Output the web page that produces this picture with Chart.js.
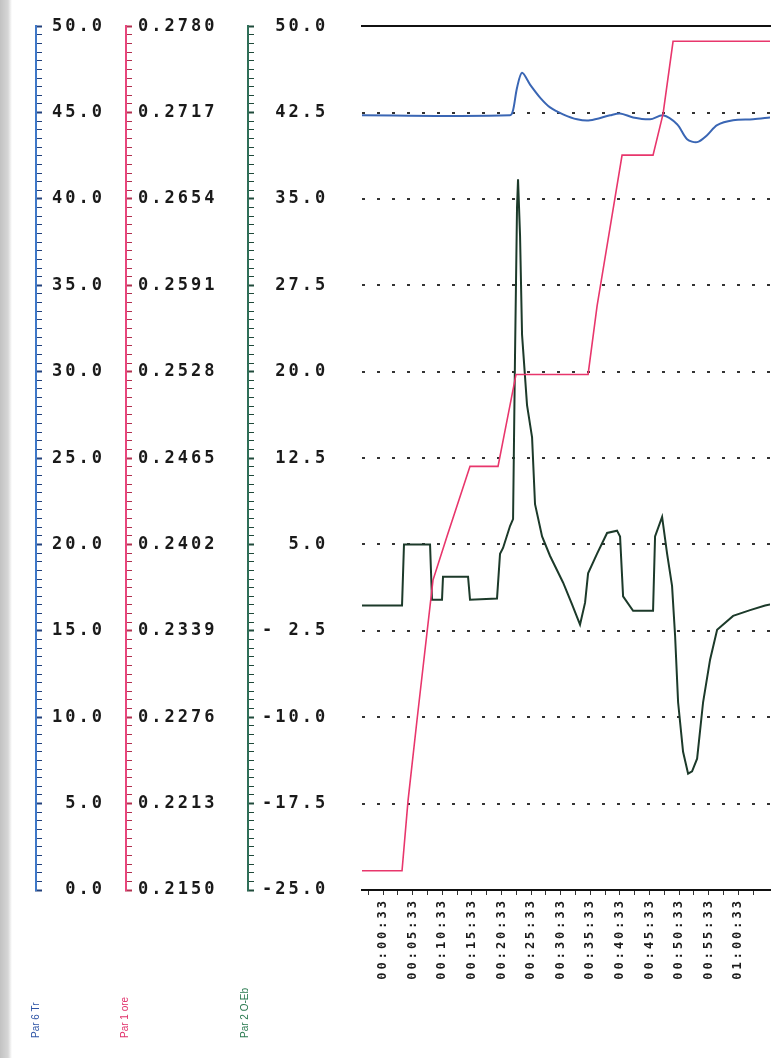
<!DOCTYPE html>
<html>
<head>
<meta charset="utf-8">
<title>Trend</title>
<script src="https://cdn.jsdelivr.net/npm/chart.js@4"></script>
<style>
    html, body { margin: 0; padding: 0; background: #fff; }
    #wrap {
        position: relative;
        width: 772px;
        height: 1058px;
        background: linear-gradient(to right, #c2c2c2 0, #d6d6d6 8px, #fff 12px);
    }
    #wrap canvas { position: absolute; left: 0; top: 0; }
    .ptitle {
        position: absolute;
        font: 10px "Liberation Sans", Arial, sans-serif;
        white-space: nowrap;
        transform-origin: 0 0;
        transform: rotate(-90deg);
    }
</style>
</head>
<body>
<div id="wrap">
    <canvas id="chartTrend" width="772" height="1058"></canvas>
    <div class="ptitle" style="left:30px; top:1038px; color:#2f55a6">Par 6 Tr</div>
    <div class="ptitle" style="left:119px; top:1038px; color:#e0306a">Par 1 ore</div>
    <div class="ptitle" style="left:239px; top:1038px; color:#2a7a50">Par 2 O-Eb</div>
</div>

<script>
// time axis labels (hh:mm:ss)
const timeLabels = [
    "00:00:33", "00:05:33", "00:10:33", "00:15:33", "00:20:33", "00:25:33", "00:30:33",
    "00:35:33", "00:40:33", "00:45:33", "00:50:33", "00:55:33", "01:00:33",
];
const timeRange = [-3.0, 65.9]; // minutes

// axis ranges
const trRange = [0, 50];
const oreRange = [0.2150, 0.2780];
const ebRange = [-25, 50];

// Par 6 Tr (blue)
const trMin = [-3.0, 22.0, 22.51, 23.18, 24.03, 25.38, 27.07, 28.76, 30.95, 33.32, 35.51, 38.89,
    40.58, 42.78, 45.65, 47.84, 50.21, 51.90, 53.59, 55.28, 56.97, 59.67, 63.05, 65.92];
const trVal = [44.84, 44.84, 45.13, 46.44, 47.30, 46.62, 45.87, 45.30, 44.90, 44.61, 44.55, 44.84,
    44.95, 44.72, 44.61, 44.84, 44.32, 43.46, 43.29, 43.69, 44.27, 44.55, 44.61, 44.72];

// Par 1 ore (red)
const oreMin = [-3.0, 3.76, 4.77, 6.29, 8.99, 11.36, 15.24, 19.97, 23.01, 35.18, 36.70, 40.92,
    46.15, 47.84, 49.53, 65.92];
const oreVal = [0.2164, 0.2164, 0.2215, 0.2274, 0.2376, 0.2408, 0.2459, 0.2459, 0.2526, 0.2526,
    0.2576, 0.2686, 0.2686, 0.2716, 0.2769, 0.2769];

// Par 2 O-Eb (dark green)
const ebMin = [-3.0, 3.42, 3.76, 4.09, 8.49, 8.82, 10.51, 10.68, 14.91, 15.24, 19.80, 20.31,
    20.82, 22.0, 22.51, 22.84, 23.18, 23.35, 23.69, 24.03, 24.87, 25.72, 26.22, 27.41, 28.76,
    30.95, 32.47, 33.82, 34.67, 35.18, 36.70, 38.39, 40.07, 40.58, 41.09, 42.78, 46.15, 46.49,
    47.68, 48.52, 49.36, 49.87, 50.38, 51.22, 52.07, 52.74, 53.59, 54.60, 55.78, 56.97, 59.67,
    62.54, 65.07, 65.92];
const ebVal = [-0.3, -0.3, -0.3, 5.0, 5.0, 0.2, 0.2, 2.2, 2.2, 0.2, 0.3, 4.2,
    4.7, 6.6, 7.2, 21.4, 34.3, 36.7, 31.8, 23.2, 17.1, 14.3, 8.5, 5.7, 4.0,
    1.7, -0.2, -1.95, -0.05, 2.5, 4.2, 6.0, 6.2, 5.7, 0.5, -0.75, -0.75, 5.7,
    7.4, 4.2, 1.4, -2.9, -8.7, -13.0, -14.9, -14.7, -13.6, -8.7, -5.0, -2.4, -1.2,
    -0.7, -0.3, -0.2];

const toMin = (t) => {
    const [h, m, s] = t.split(":").map(Number);
    return h * 60 + m + s / 60;
};
const xTicks = timeLabels.map(toMin);
const pts = (xs, ys) => xs.map((x, i) => ({ x, y: ys[i] }));

const monoFont = (size) => ({ family: '"DejaVu Sans Mono", monospace', size, weight: "bold" });

// wide letter spacing like the recorder printout
const spacingPlugin = {
    id: "monoSpacing",
    beforeUpdate(chart) { chart.ctx.letterSpacing = "3px"; },
    beforeDraw(chart) { chart.ctx.letterSpacing = "3px"; },
};

function sideAxis(range, color, tickColor, weight, width, fmt, align, pad) {
    return {
        type: "linear",
        position: "left",
        weight,
        min: range[0],
        max: range[1],
        afterFit: (s) => { s.width = width; },
        border: { color, width: 2 },
        grid: {
            drawOnChartArea: false,
            tickLength: -6,
            tickColor,
            tickWidth: (c) => (c.index % 10 === 0 ? 2 : 1),
        },
        ticks: {
            stepSize: (range[1] - range[0]) / 100,
            autoSkip: false,
            mirror: true,
            crossAlign: align,
            padding: pad,
            color: "#1a1a1a",
            font: monoFont(17),
            callback: (v, i) => (i % 10 === 0 ? fmt(v) : ""),
        },
    };
}

const fmtEb = (v) => (v < 0 && v > -10 ? "- " + (-v).toFixed(1) : v.toFixed(1));

new Chart(document.getElementById("chartTrend"), {
    type: "line",
    data: {
        datasets: [
            {
                label: "Par 1 ore",
                data: pts(oreMin, oreVal),
                yAxisID: "yOre",
                borderColor: "#e8366c",
                borderWidth: 1.6,
                pointRadius: 0,
                tension: 0,
            },
            {
                label: "Par 2 O-Eb",
                data: pts(ebMin, ebVal),
                yAxisID: "yEb",
                borderColor: "#1c3a2a",
                borderWidth: 2,
                pointRadius: 0,
                tension: 0,
            },
            {
                label: "Par 6 Tr",
                data: pts(trMin, trVal),
                yAxisID: "yTr",
                borderColor: "#3a66b4",
                borderWidth: 2,
                pointRadius: 0,
                tension: 0.3,
            },
        ],
    },
    options: {
        responsive: false,
        animation: false,
        devicePixelRatio: 1,
        layout: { padding: { left: 0, right: 2, top: 18, bottom: 78 } },
        plugins: { legend: { display: false }, tooltip: { enabled: false } },
        scales: {
            x: {
                type: "linear",
                position: "bottom",
                min: timeRange[0],
                max: timeRange[1],
                afterBuildTicks: (axis) => {
                    const list = [{ value: xTicks[0] - 2.5 }];
                    xTicks.forEach((v, i) => {
                        list.push({ value: v });
                        const next = i < xTicks.length - 1 ? xTicks[i + 1] : v + 5;
                        list.push({ value: (v + next) / 2 });
                    });
                    axis.ticks = list.filter((t) => t.value >= timeRange[0] && t.value <= timeRange[1]);
                },
                afterFit: (s) => { s.height = 90; },
                border: { color: "#111", width: 2 },
                grid: { drawOnChartArea: false, tickLength: 5, tickColor: "#333" },
                ticks: {
                    autoSkip: false,
                    minRotation: 90,
                    maxRotation: 90,
                    padding: 3,
                    color: "#1a1a1a",
                    font: monoFont(12),
                    callback: (v) => {
                        const i = xTicks.findIndex((t) => Math.abs(t - v) < 1e-6);
                        return i >= 0 ? timeLabels[i] : "";
                    },
                },
            },
            xTop: {
                type: "linear",
                position: "top",
                afterFit: (s) => { s.height = 0; },
                border: { color: "#111", width: 2 },
                grid: { display: false },
                ticks: { display: false },
            },
            yTr: sideAxis(trRange, "#3f78c8", "#23407a", 4, 36, (v) => v.toFixed(1), "far", 16),
            yOre: sideAxis(oreRange, "#e8467c", "#b0304f", 3, 90, (v) => v.toFixed(4), "near", 12),
            yEb: sideAxis(ebRange, "#2f6f58", "#1f4a3a", 2, 122, fmtEb, "far", 14),
            // dotted horizontal guides across the plot
            yGuide: {
                type: "linear",
                position: "left",
                weight: 1,
                min: ebRange[0],
                max: ebRange[1],
                afterFit: (s) => { s.width = 114; },
                border: { display: false, dash: [3, 12] },
                grid: {
                    drawTicks: false,
                    lineWidth: 2,
                    color: (c) => (c.index === 0 || c.index === 10 ? "rgba(0,0,0,0)" : "#333"),
                },
                ticks: { display: false, stepSize: 7.5 },
            },
        },
    },
    plugins: [spacingPlugin],
});
</script>
</body>
</html>
